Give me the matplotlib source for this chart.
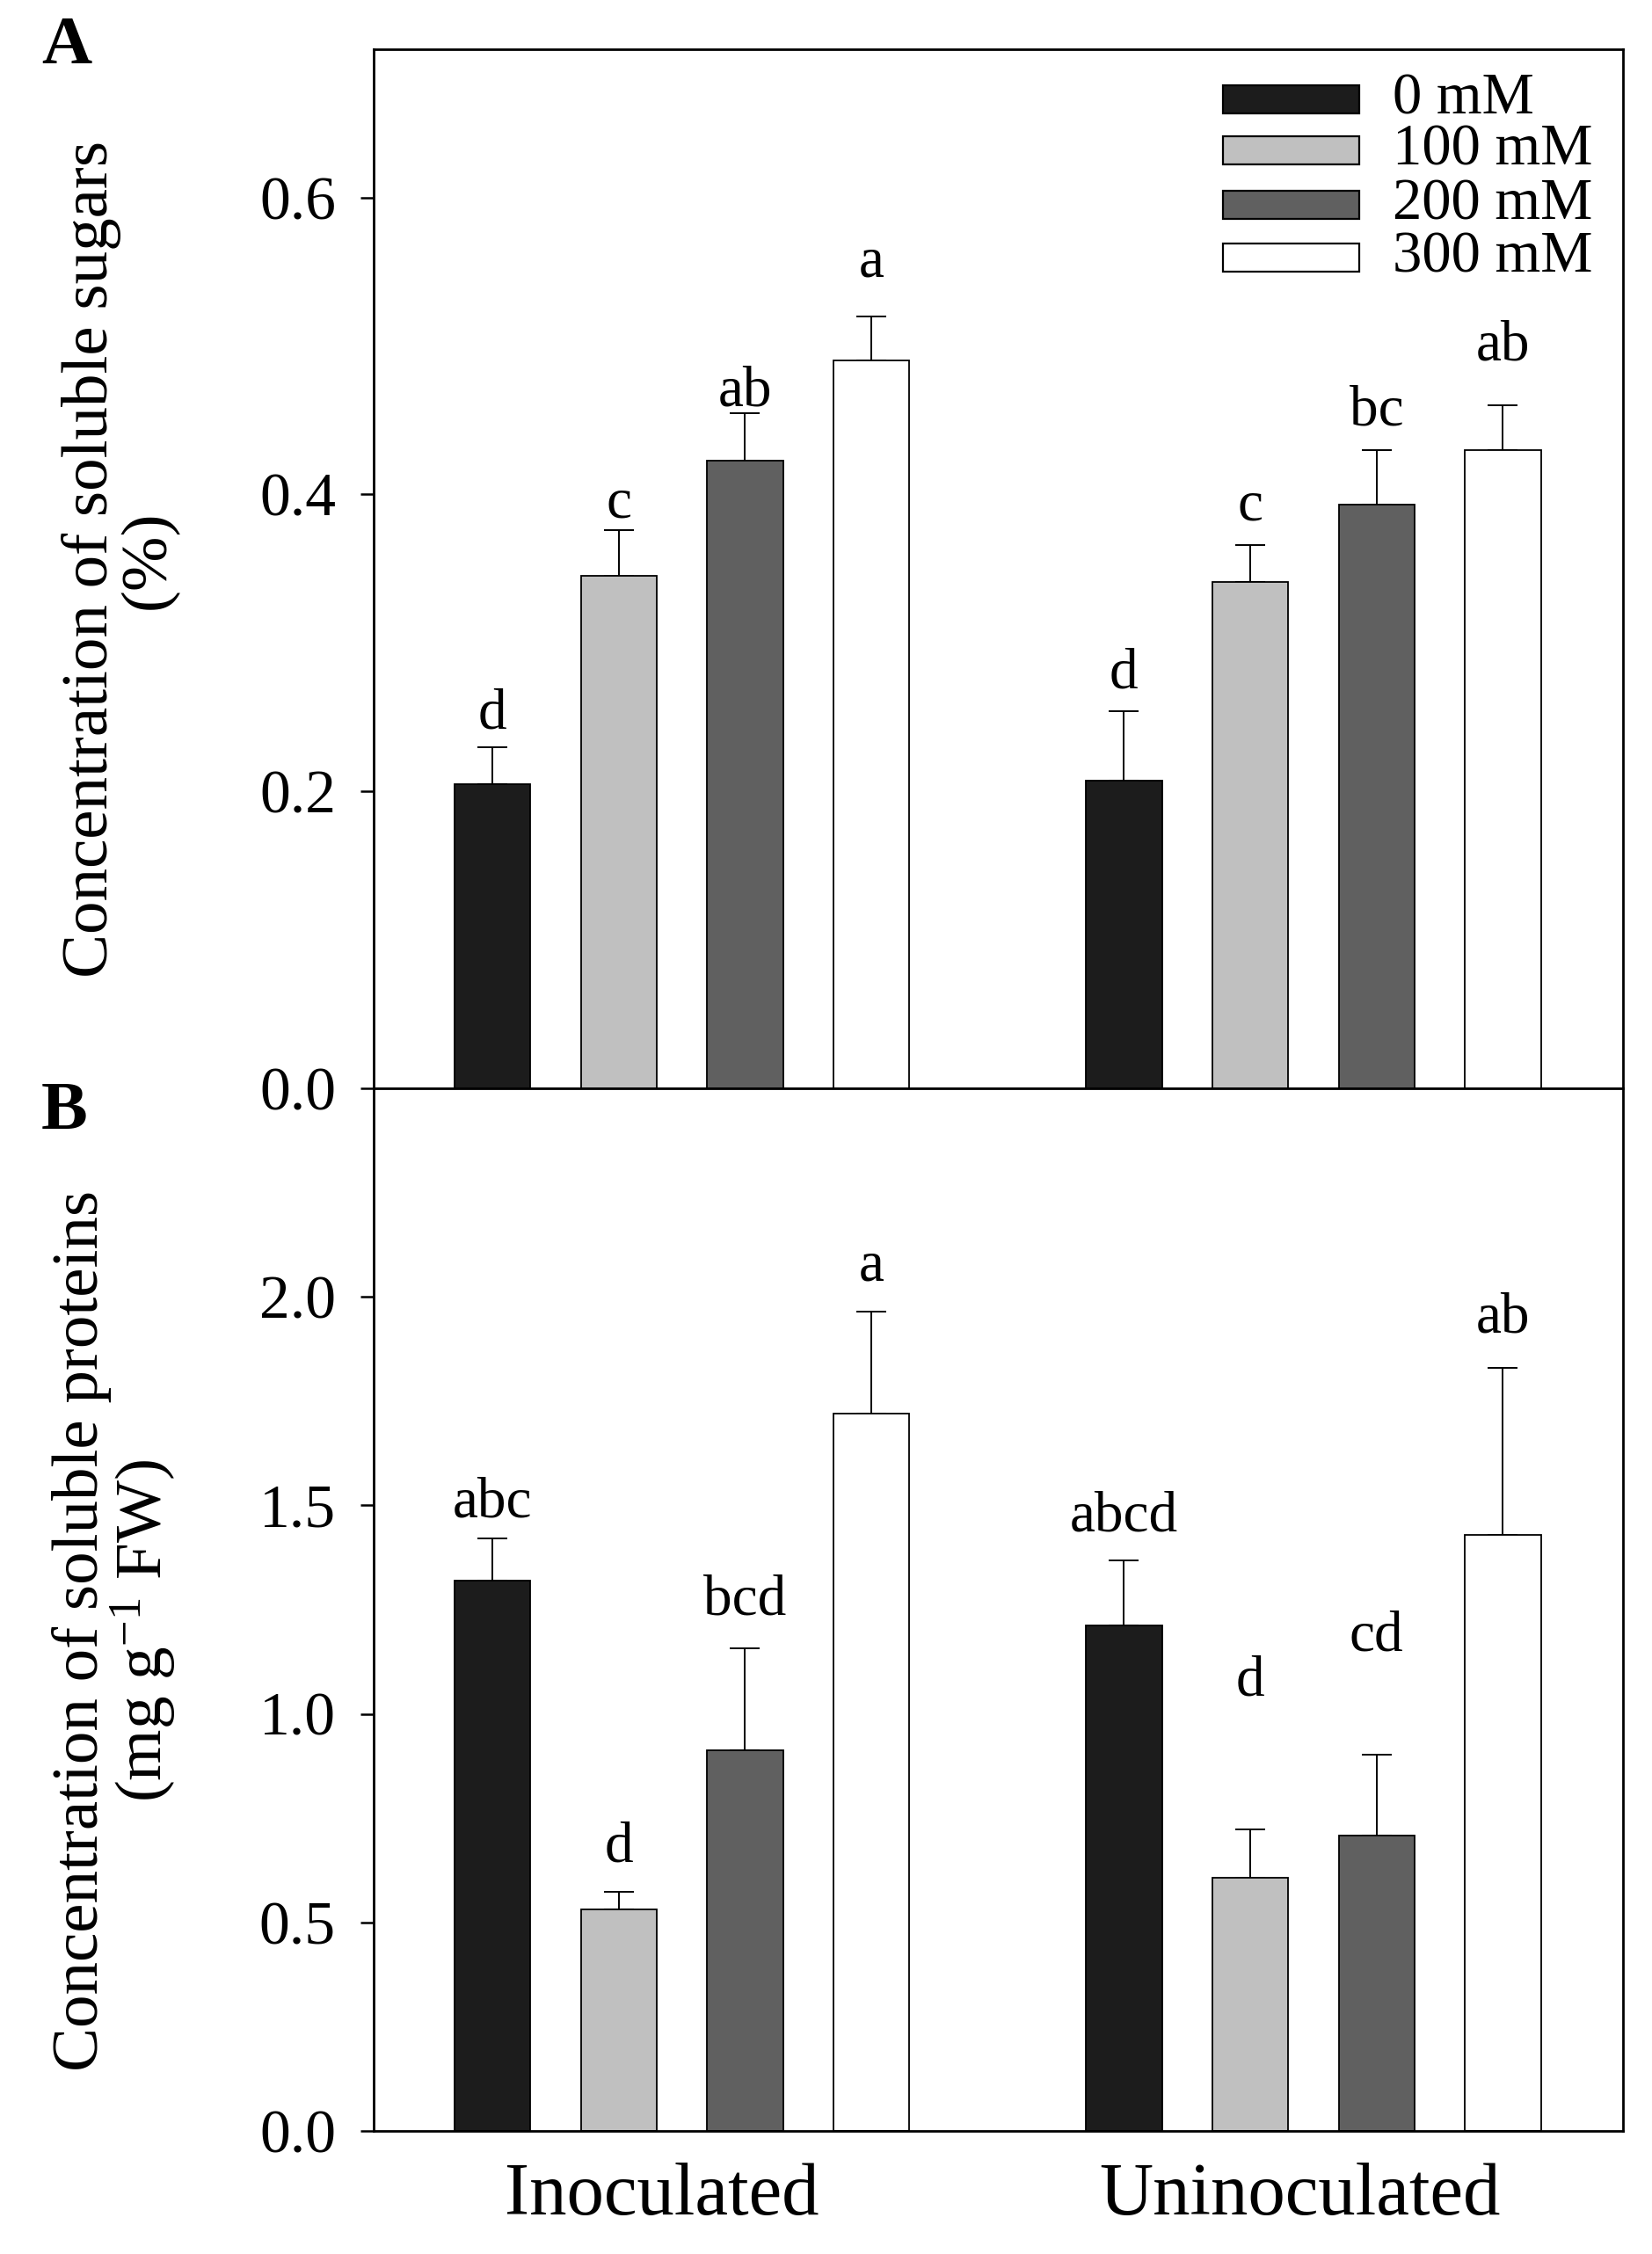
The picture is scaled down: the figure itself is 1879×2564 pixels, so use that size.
import numpy as np
import matplotlib.pyplot as plt
from matplotlib.patches import Rectangle

plt.rcParams['font.family'] = ['Liberation Serif', 'DejaVu Serif']
plt.rcParams['mathtext.fontset'] = 'custom'
plt.rcParams['mathtext.rm'] = 'Liberation Serif'
plt.rcParams['mathtext.it'] = 'Liberation Serif:italic'

# data
groups = ['Inoculated', 'Uninoculated']
salt = ['0 mM', '100 mM', '200 mM', '300 mM']
colors = ['#1c1c1c', '#c0c0c0', '#606060', '#ffffff']

sugar_mean = [0.205, 0.345, 0.423, 0.490,
              0.207, 0.341, 0.393, 0.430]
sugar_err = [0.025, 0.031, 0.032, 0.030,
             0.047, 0.025, 0.037, 0.030]
sugar_sig = ['d', 'c', 'ab', 'a', 'd', 'c', 'bc', 'ab']
sugar_sig_y = [0.252, 0.394, 0.469, 0.556, 0.279, 0.392, 0.456, 0.500]

prot_mean = [1.32, 0.532, 0.912, 1.72,
             1.212, 0.608, 0.708, 1.43]
prot_err = [0.10, 0.041, 0.245, 0.245,
            0.156, 0.114, 0.194, 0.40]
prot_sig = ['abc', 'd', 'bcd', 'a', 'abcd', 'd', 'cd', 'ab']
prot_sig_y = [1.506, 0.680, 1.271, 2.073, 1.472, 1.078, 1.185, 1.948]

# bar positions: 4 bars per group, gap of one slot between groups
xpos = np.array([0, 1, 2, 3, 5, 6, 7, 8])
bar_colors = colors * 2

fig = plt.figure(figsize=(18.79, 25.64), dpi=100)
axA = fig.add_axes([0.2262, 0.5172, 0.7562, 0.461])
axB = fig.add_axes([0.2262, 0.0546, 0.7562, 0.4626])


def draw(ax, mean, err, sig, sig_y):
    ax.bar(xpos, mean, width=0.6, color=bar_colors, edgecolor='black',
           linewidth=1.3, zorder=2)
    ax.errorbar(xpos, mean, yerr=[np.zeros(len(err)), err], fmt='none',
                ecolor='black', elinewidth=1.4, capsize=12.5, capthick=1.4,
                zorder=1)
    for x, s, y in zip(xpos, sig, sig_y):
        ax.text(x, y, s, ha='center', va='center', fontsize=47)
    ax.set_xlim(-0.94, 8.95)
    for sp in ax.spines.values():
        sp.set_linewidth(2)
    ax.tick_params(axis='y', direction='out', length=11, width=1.8,
                   labelsize=50, pad=20)


draw(axA, sugar_mean, sugar_err, sugar_sig, sugar_sig_y)
axA.set_ylim(0, 0.7)
axA.set_yticks([0.0, 0.2, 0.4, 0.6])
axA.set_yticklabels(['0.0', '0.2', '0.4', '0.6'])
axA.tick_params(axis='x', length=0, labelbottom=False)
axA.set_ylabel('Concentration of soluble sugars\n(%)', fontsize=54,
               linespacing=0.95)
axA.yaxis.set_label_coords(-0.156, 0.509)

draw(axB, prot_mean, prot_err, prot_sig, prot_sig_y)
axB.set_ylim(0, 2.5)
axB.set_yticks([0.0, 0.5, 1.0, 1.5, 2.0])
axB.set_yticklabels(['0.0', '0.5', '1.0', '1.5', '2.0'])
group_x = [xpos[:4].mean() - 0.16, xpos[4:].mean() - 0.11]
axB.set_xticks(group_x)
axB.set_xticklabels(groups, fontsize=61)
axB.tick_params(axis='x', length=0, pad=26)
axB.set_ylabel('Concentration of soluble proteins\n'
               r'(mg g$^{\mathregular{-1}}$ FW)', fontsize=54, linespacing=0.95)
axB.yaxis.set_label_coords(-0.156, 0.48)

# legend drawn as boxes + labels in axes fraction
row_y = [0.9518, 0.9027, 0.8499, 0.7991]
for lab, col, y in zip(salt, colors, row_y):
    axA.add_patch(Rectangle((0.680, y - 0.0135), 0.109, 0.027,
                            transform=axA.transAxes, facecolor=col,
                            edgecolor='black', linewidth=1.6, clip_on=False))
    axA.text(0.8156, y, lab, transform=axA.transAxes, ha='left',
             va='center', fontsize=48)

fig.text(47 / 1879, 1 - 72 / 2564, 'A', fontsize=57, fontweight='bold',
         ha='left', va='baseline')
fig.text(47 / 1879, 1 - 1284 / 2564, 'B', fontsize=57, fontweight='bold',
         ha='left', va='baseline')

fig.savefig('out.png', dpi=100)
